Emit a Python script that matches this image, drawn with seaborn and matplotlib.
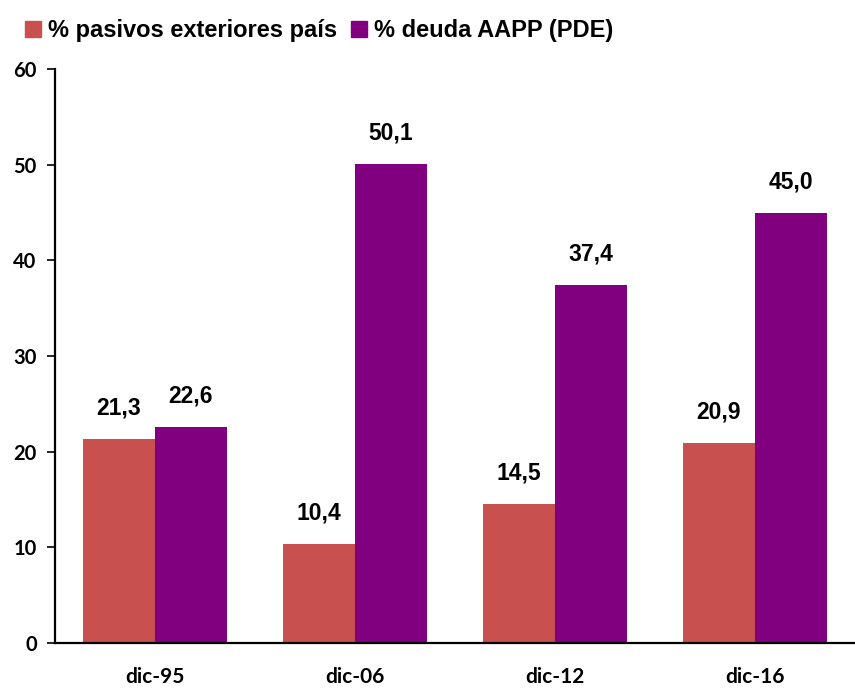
import pandas as pd
import matplotlib
matplotlib.use("Agg")
import matplotlib.pyplot as plt
import seaborn as sns

# data
categories = ["dic-95", "dic-06", "dic-12", "dic-16"]
pasivos = [21.3, 10.4, 14.5, 20.9]
deuda = [22.6, 50.1, 37.4, 45.0]
series_names = ["% pasivos exteriores país", "% deuda AAPP (PDE)"]
colors = ["#C8504F", "#800080"]

df = pd.DataFrame({
    "cat": categories * 2,
    "serie": [series_names[0]] * 4 + [series_names[1]] * 4,
    "valor": pasivos + deuda,
})

sns.set_style("white", {"text.color": "black", "xtick.color": "black",
                        "ytick.color": "black", "axes.edgecolor": "black"})
plt.rcParams["font.family"] = ["Liberation Sans", "DejaVu Sans"]

fig = plt.figure(figsize=(8.55, 6.91), dpi=100)
ax = fig.add_axes([0.064, 0.0695, 0.936, 0.8305])

sns.barplot(data=df, x="cat", y="valor", hue="serie", palette=colors,
            width=0.72, saturation=1, linewidth=0, ax=ax, legend=False)

for cont in ax.containers:
    for bar in cont:
        h = bar.get_height()
        ax.annotate(f"{h:.1f}".replace(".", ","),
                    (bar.get_x() + bar.get_width() / 2, h),
                    xytext=(0, 14), textcoords="offset points",
                    ha="center", va="bottom", fontsize=16.5, fontweight="bold",
                    color="black")

ax.set_ylim(0, 60)
ax.set_xlim(-0.5, 3.5)
ax.set_yticks(range(0, 61, 10))
ax.set_xlabel("")
ax.set_ylabel("")
for lab in ax.get_yticklabels() + ax.get_xticklabels():
    lab.set_fontfamily("Lato")
    lab.set_fontweight("bold")
ax.tick_params(axis="y", direction="out", length=6, width=1.2, labelsize=14.5, pad=7, left=True)
ax.tick_params(axis="x", length=0, labelsize=15, pad=17)

sns.despine(ax=ax, top=True, right=True)
ax.spines["left"].set_linewidth(1.6)
ax.spines["bottom"].set_linewidth(1.6)

handles = [plt.Rectangle((0, 0), 1, 1, color=c) for c in colors]
fig.legend(handles, series_names, loc="upper left", bbox_to_anchor=(0.008, 0.998),
           ncol=2, frameon=False, handlelength=0.68, handleheight=0.68,
           handletextpad=0.3, columnspacing=0.6, borderpad=0.25,
           prop={"family": "Liberation Sans", "weight": "bold", "size": 17})

fig.savefig("out.png", dpi=100)
